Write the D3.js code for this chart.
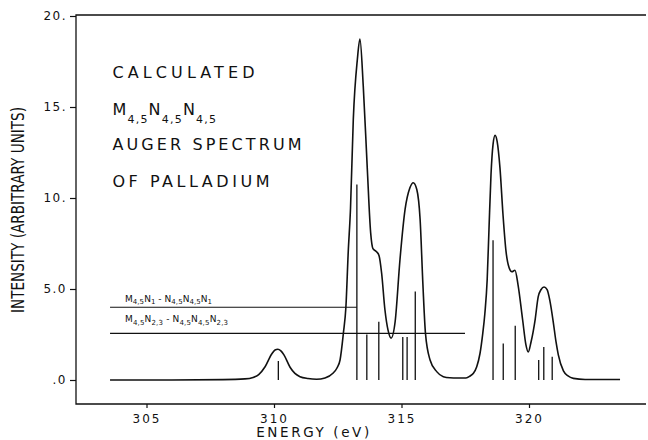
<!DOCTYPE html>
<html><head><meta charset="utf-8">
<script src="https://cdn.jsdelivr.net/npm/d3@7"></script>
<style>html,body{margin:0;padding:0;background:#fff}svg{display:block}</style>
</head><body><svg id="c" width="648" height="440"></svg>
<script>
// ---- data ----
const curveE = [303.57,305.96,308.00,308.86,309.18,309.40,309.65,309.91,310.04,310.15,310.27,310.39,310.63,310.82,311.02,311.33,311.67,312.00,312.31,312.47,312.59,312.72,312.82,312.91,313.00,313.11,313.27,313.37,313.50,313.66,313.79,313.88,314.02,314.12,314.22,314.35,314.47,314.59,314.75,314.94,315.14,315.33,315.46,315.60,315.73,315.84,315.94,316.12,316.38,316.64,316.90,317.18,317.53,317.69,317.82,317.95,318.08,318.18,318.27,318.36,318.43,318.51,318.59,318.67,318.75,318.86,318.98,319.10,319.22,319.33,319.45,319.57,319.75,319.88,319.97,320.08,320.24,320.36,320.47,320.59,320.71,320.82,320.95,321.06,321.15,321.35,321.53,321.74,322.20,323.57];
const curveI = [0.00,0.00,0.02,0.06,0.14,0.30,0.73,1.43,1.65,1.69,1.60,1.38,0.70,0.36,0.18,0.08,0.04,0.11,0.37,0.66,1.10,2.56,4.01,7.00,9.42,14.33,17.63,18.73,16.16,11.57,8.10,7.22,7.05,6.83,5.88,3.86,2.75,2.30,3.20,6.61,9.37,10.56,10.84,10.47,8.82,5.23,2.56,1.10,0.46,0.18,0.12,0.11,0.11,0.22,0.37,0.73,1.47,2.48,3.67,5.51,8.26,11.29,12.95,13.44,13.11,11.68,9.09,7.05,6.17,5.95,6.03,5.23,3.31,1.93,1.54,2.09,3.31,4.57,4.96,5.11,4.96,4.35,3.20,2.09,1.38,0.50,0.22,0.09,0.03,0.03];
const stickE = [310.17,313.25,313.64,314.11,315.05,315.22,315.54,318.59,318.99,319.46,320.38,320.58,320.91];
const stickI = [1.05,10.74,2.50,3.20,2.36,2.36,4.86,7.68,2.00,2.98,1.10,1.82,1.28];
const levelValues = [4.0, 2.56];
const levelStart = 303.57;
const levelEnds = [313.25, 317.49];
const levelLabels = [
  [["M","4,5"],["N","1"],[" - ",""],["N","4,5"],["N","4,5"],["N","1"]],
  [["M","4,5"],["N","2,3"],[" - ",""],["N","4,5"],["N","4,5"],["N","2,3"]]
];
const titleText = ["CALCULATED", "AUGER SPECTRUM", "OF PALLADIUM"];
const titleFormula = [["M","4,5"],["N","4,5"],["N","4,5"]];
const yTickValues = [0,5,10,15,20];
const yTickLabels = [".0","5.0","10.","15.","20."];
const xTickValues = [305,310,315,320];
const xTitle = "ENERGY (eV)";
const yTitle = "INTENSITY (ARBITRARY UNITS)";

// ---- layout ----
const svg = d3.select("#c");
const F = "'DejaVu Sans', Verdana, sans-serif";
const ink = "#111";
const frame = {left:76, top:15, bottom:404, right:646};
const x = d3.scaleLinear().domain([305,320]).range([146.5,529]);
const y = d3.scaleLinear().domain([0,20]).range([380,16]);

// frame
svg.append("path")
  .attr("d", `M${frame.right},${frame.top}H${frame.left}V${frame.bottom}H${frame.right}`)
  .attr("fill","none").attr("stroke",ink).attr("stroke-width",1.3);

// y axis
const ya = svg.append("g").attr("transform",`translate(${frame.left},0)`)
  .call(d3.axisLeft(y).tickValues(yTickValues).tickSize(6).tickPadding(3)
    .tickFormat((d,i)=>yTickLabels[i]));
ya.select(".domain").remove();
ya.selectAll("line").attr("stroke",ink).attr("stroke-width",1.2);
ya.selectAll("text").attr("font-family",F).attr("font-size",12).attr("fill",ink)
  .attr("letter-spacing",1.5);

// x axis
const xa = svg.append("g").attr("transform",`translate(0,${frame.bottom})`)
  .call(d3.axisBottom(x).tickValues(xTickValues).tickSize(4).tickPadding(6)
    .tickFormat(d3.format("d")));
xa.select(".domain").remove();
xa.selectAll("line").attr("stroke",ink).attr("stroke-width",1.2);
xa.selectAll("text").attr("font-family",F).attr("font-size",12).attr("fill",ink)
  .attr("letter-spacing",2);

// axis titles
svg.append("text").attr("x",314).attr("y",437).attr("text-anchor","middle")
  .attr("font-family",F).attr("font-size",13.5).attr("fill",ink)
  .attr("letter-spacing",2.6).text(xTitle);
svg.append("text").attr("transform","translate(24,210) rotate(-90)")
  .attr("text-anchor","middle").attr("font-family",F).attr("font-size",17)
  .attr("fill",ink).attr("textLength",206).attr("lengthAdjust","spacingAndGlyphs")
  .text(yTitle);

// horizontal level lines
levelValues.forEach((v,i)=>{
  svg.append("line").attr("x1",x(levelStart)).attr("x2",x(levelEnds[i]))
    .attr("y1",y(v)).attr("y2",y(v)).attr("stroke",ink).attr("stroke-width",1.1);
});

// sticks
svg.append("g").selectAll("line").data(stickE).join("line")
  .attr("x1",d=>x(d)).attr("x2",d=>x(d))
  .attr("y1",y(0)).attr("y2",(d,i)=>y(stickI[i]))
  .attr("stroke",ink).attr("stroke-width",1.3);

// spectrum curve
const pts = curveE.map((e,i)=>[e,curveI[i]]);
svg.append("path").datum(pts)
  .attr("d", d3.line().x(d=>x(d[0])).y(d=>y(d[1])).curve(d3.curveMonotoneX))
  .attr("fill","none").attr("stroke",ink).attr("stroke-width",1.6)
  .attr("stroke-linejoin","round");

// helper for subscripted labels
function subText(xp, yp, parts, size, subSize, shift, ls, len){
  const t = svg.append("text").attr("x",xp).attr("y",yp)
    .attr("font-family",F).attr("font-size",size).attr("fill",ink)
    .attr("letter-spacing",ls);
  let down = false;
  parts.forEach(([main,sub])=>{
    const m = t.append("tspan").attr("font-size",size).text(main);
    if(down){ m.attr("dy",-shift); down=false; }
    if(sub){
      t.append("tspan").attr("font-size",subSize).attr("dy",shift).text(sub);
      down = true;
    }
  });
  if(len) t.attr("textLength",len).attr("lengthAdjust","spacing");
  return t;
}

// title block
const titleX = 112.5;
svg.append("text").attr("x",titleX).attr("y",78).attr("font-family",F)
  .attr("font-size",16).attr("fill",ink).attr("textLength",142)
  .attr("lengthAdjust","spacing").text(titleText[0]);
subText(titleX, 115, titleFormula, 16, 11, 8, 1.2);
svg.append("text").attr("x",titleX).attr("y",150).attr("font-family",F)
  .attr("font-size",16).attr("fill",ink).attr("textLength",189)
  .attr("lengthAdjust","spacing").text(titleText[1]);
svg.append("text").attr("x",titleX).attr("y",186.5).attr("font-family",F)
  .attr("font-size",16).attr("fill",ink).attr("textLength",157)
  .attr("lengthAdjust","spacing").text(titleText[2]);

// level labels
subText(125, 301.5, levelLabels[0], 9, 7, 2.5, 0, 87);
subText(125, 322, levelLabels[1], 9, 7, 2.5, 0, 103);
</script></body></html>
